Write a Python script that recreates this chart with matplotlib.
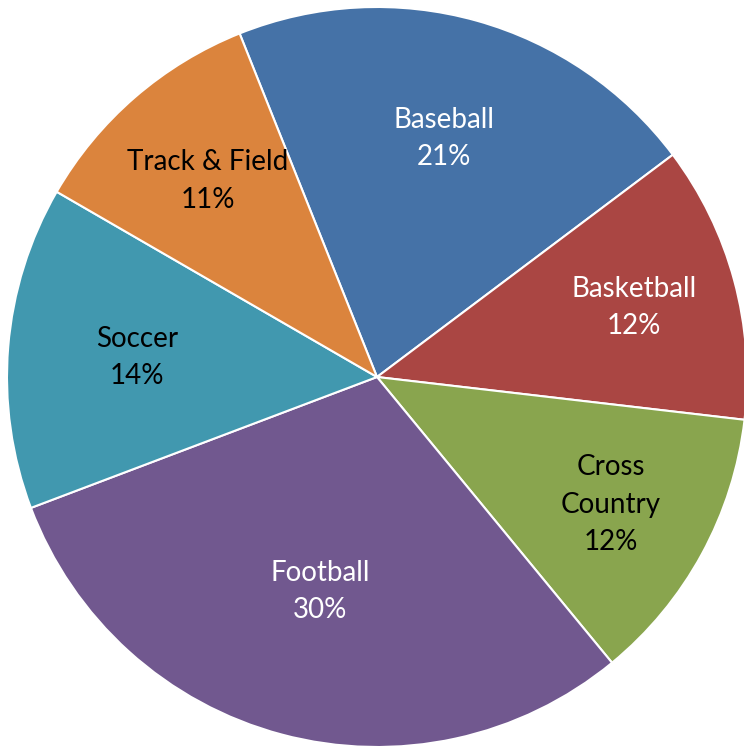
import numpy as np
import matplotlib.pyplot as plt

# Sports participation share
sports = ["Baseball", "Basketball", "Cross\nCountry", "Football", "Soccer", "Track & Field"]
shares = [20.8, 12.1, 12.2, 30.2, 14.1, 10.6]
colors = ["#4572A7", "#AA4643", "#89A54E", "#71588F", "#4198AF", "#DB843D"]
text_colors = ["white", "white", "black", "white", "black", "black"]
label_r = [0.67, 0.72, 0.72, 0.60, 0.65, 0.70]

plt.rcParams["font.family"] = ["Lato", "DejaVu Sans"]

fig = plt.figure(figsize=(7.44, 7.51), dpi=100)
# axes box sized so the pie fills the picture like the reference
ax = fig.add_axes([7 / 744, 4 / 751, 740 / 744, 740 / 751])

wedges, texts = ax.pie(
    shares,
    colors=colors,
    startangle=111.8,
    counterclock=False,
    radius=1.0,
    wedgeprops=dict(edgecolor="white", linewidth=1.5),
)

total = sum(shares)
for w, name, val, tc, r in zip(wedges, sports, shares, text_colors, label_r):
    ang = np.deg2rad((w.theta1 + w.theta2) / 2)
    ax.text(r * np.cos(ang), r * np.sin(ang), f"{name}\n{val / total * 100:.0f}%",
            ha="center", va="center", fontsize=20, color=tc, linespacing=1.55)

ax.set_xlim(-1, 1)
ax.set_ylim(-1, 1)
ax.set_aspect("equal")
ax.axis("off")

fig.savefig("out.png", dpi=100)
